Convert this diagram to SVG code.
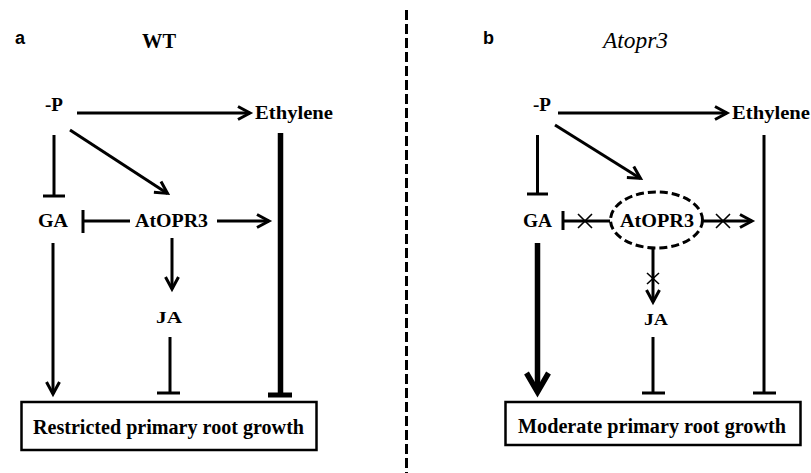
<svg xmlns="http://www.w3.org/2000/svg" width="811" height="473" viewBox="0 0 811 473">
<style>
.t{font-family:"Liberation Serif","Times New Roman",serif;font-weight:bold;fill:#000}
.lab{font-family:"Liberation Sans",Arial,sans-serif;font-weight:bold;font-size:18px;fill:#000}
.ln{stroke:#000;stroke-width:3;fill:none}
.thk{stroke:#000;stroke-width:5.5;fill:none}
.x{stroke:#000;stroke-width:1.6;fill:none}
.box{fill:#fff;stroke:#000;stroke-width:2.5}
</style>
<defs>
<marker id="arr" markerUnits="userSpaceOnUse" orient="auto" refX="0" refY="0" markerWidth="30" markerHeight="30" style="overflow:visible">
<path d="M-12,-6.5 L0,0 L-12,6.5" fill="none" stroke="#000" stroke-width="3"/>
</marker>
<marker id="arrBig" markerUnits="userSpaceOnUse" orient="auto" refX="0" refY="0" markerWidth="40" markerHeight="40" style="overflow:visible">
<path d="M-19,-11 L0,0 L-19,11" fill="none" stroke="#000" stroke-width="5.5"/>
</marker>
</defs>
<rect width="811" height="473" fill="#fff"/>

<!-- divider -->
<line x1="406.5" y1="10" x2="406.5" y2="473" stroke="#000" stroke-width="3" stroke-dasharray="10 4"/>

<!-- Panel a -->
<g id="a-label"><text class="lab" x="15" y="44">a</text></g>
<g id="a-title"><text class="t" x="142" y="48" font-size="22" textLength="34" lengthAdjust="spacingAndGlyphs">WT</text></g>
<g id="a-P"><text class="t" x="45" y="111" font-size="19" textLength="18" lengthAdjust="spacingAndGlyphs">-P</text></g>
<g id="a-Ethylene"><text class="t" x="255" y="119" font-size="19" textLength="78" lengthAdjust="spacingAndGlyphs">Ethylene</text></g>
<g id="a-GA"><text class="t" x="38" y="227" font-size="19" textLength="30" lengthAdjust="spacingAndGlyphs">GA</text></g>
<g id="a-AtOPR3"><text class="t" x="135" y="227" font-size="19" textLength="73" lengthAdjust="spacingAndGlyphs">AtOPR3</text></g>
<g id="a-JA"><text class="t" x="156" y="323" font-size="17" textLength="26" lengthAdjust="spacingAndGlyphs">JA</text></g>
<g id="a-outcome">
<rect class="box" x="21.5" y="402" width="295" height="48"/>
<text class="t" x="33" y="434" font-size="20" textLength="271" lengthAdjust="spacingAndGlyphs">Restricted primary root growth</text>
</g>

<!-- Panel b -->
<g id="b-label"><text class="lab" x="483" y="44">b</text></g>
<g id="b-title"><text x="603" y="48" font-family="Liberation Serif, Times New Roman, serif" font-style="italic" font-size="23" textLength="65" lengthAdjust="spacingAndGlyphs">Atopr3</text></g>
<g id="b-P"><text class="t" x="533" y="111" font-size="19" textLength="18" lengthAdjust="spacingAndGlyphs">-P</text></g>
<g id="b-Ethylene"><text class="t" x="732" y="119" font-size="19" textLength="78" lengthAdjust="spacingAndGlyphs">Ethylene</text></g>
<g id="b-GA"><text class="t" x="523" y="227" font-size="19" textLength="29" lengthAdjust="spacingAndGlyphs">GA</text></g>
<g id="b-AtOPR3">
<ellipse cx="656.5" cy="220" rx="46" ry="28" fill="none" stroke="#000" stroke-width="3" stroke-dasharray="8 4"/>
<text class="t" x="620" y="227" font-size="19" textLength="74" lengthAdjust="spacingAndGlyphs">AtOPR3</text>
</g>
<g id="b-JA"><text class="t" x="644" y="325" font-size="17" textLength="24" lengthAdjust="spacingAndGlyphs">JA</text></g>
<g id="b-outcome">
<rect class="box" x="505.5" y="402" width="295" height="43"/>
<text class="t" x="518" y="433" font-size="20" textLength="268" lengthAdjust="spacingAndGlyphs">Moderate primary root growth</text>
</g>

<!-- Connectors -->
<g id="connectors">
<!-- panel a -->
<line class="ln" x1="77" y1="113" x2="250" y2="113" marker-end="url(#arr)"/>
<line class="ln" x1="54" y1="135" x2="54" y2="196"/>
<line class="ln" x1="43" y1="196" x2="65" y2="196"/>
<line class="ln" x1="70" y1="130" x2="167.5" y2="193.4" marker-end="url(#arr)"/>
<line class="ln" x1="83" y1="221" x2="130" y2="221"/>
<line class="ln" x1="83" y1="210" x2="83" y2="233"/>
<line class="ln" x1="217" y1="221" x2="269" y2="221" marker-end="url(#arr)"/>
<line class="thk" x1="280.5" y1="133" x2="280.5" y2="395"/>
<line stroke="#000" stroke-width="5" x1="268" y1="395" x2="292" y2="395"/>
<line class="ln" x1="172" y1="238" x2="172" y2="289" marker-end="url(#arr)"/>
<line class="ln" x1="170" y1="337" x2="170" y2="393"/>
<line class="ln" x1="157" y1="393" x2="180" y2="393"/>
<line class="ln" x1="53" y1="243" x2="53" y2="394" marker-end="url(#arr)"/>
<!-- panel b -->
<line class="ln" x1="558" y1="113" x2="727" y2="113" marker-end="url(#arr)"/>
<line class="ln" x1="537.5" y1="135" x2="537.5" y2="194"/>
<line class="ln" x1="527" y1="194" x2="548" y2="194"/>
<line class="ln" x1="555" y1="125" x2="640.5" y2="178.4" marker-end="url(#arr)"/>
<line class="ln" x1="563" y1="221" x2="610" y2="221"/>
<line class="ln" x1="563" y1="211" x2="563" y2="230"/>
<path class="x" d="M578,214 L592,228 M578,228 L592,214"/>
<line class="ln" x1="703" y1="221" x2="752" y2="221" marker-end="url(#arr)"/>
<path class="x" d="M716,214 L730,228 M716,228 L730,214"/>
<line class="ln" x1="764" y1="135" x2="764" y2="393"/>
<line class="ln" x1="753" y1="393" x2="776" y2="393"/>
<line class="ln" x1="653" y1="249" x2="653" y2="302" marker-end="url(#arr)"/>
<path class="x" d="M647,273 L659,284 M647,284 L659,273"/>
<line class="ln" x1="653" y1="337" x2="653" y2="393"/>
<line class="ln" x1="642" y1="393" x2="665" y2="393"/>
<line class="thk" x1="537.5" y1="243" x2="537.5" y2="392" marker-end="url(#arrBig)"/>
</g>
</svg>
